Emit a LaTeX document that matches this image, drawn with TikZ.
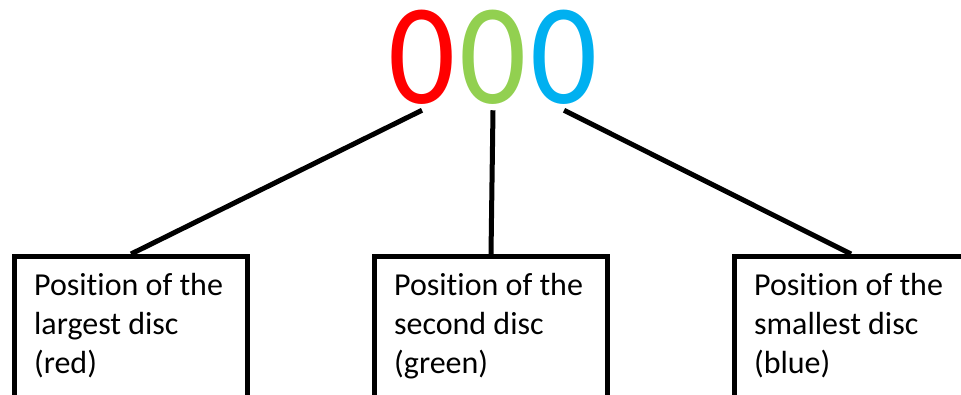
\documentclass[tikz,border=0pt]{standalone}
\usepackage{fontspec}
\setmainfont{Carlito}[Ligatures=NoCommon]
\usetikzlibrary{positioning}
\definecolor{discred}{HTML}{FF0000}
\definecolor{discgreen}{HTML}{92D050}
\definecolor{discblue}{HTML}{00B0F0}
\tikzstyle{digit} = [inner sep=0pt, anchor=base, font=\fontsize{108}{108}\selectfont]
\tikzstyle{posbox} = [rectangle, draw=black, line width=3.75pt, minimum width=175pt, minimum height=130pt, anchor=north]
\tikzstyle{boxtext} = [inner sep=0pt, align=left, font=\fontsize{24}{29.25}\selectfont]
\tikzstyle{edge} = [line width=3.75pt]
\newcommand{\narrowzero}{\scalebox{0.92}[1]{0}}

\begin{document}
\begin{tikzpicture}[x=0.75pt, y=-0.75pt]

\useasboundingbox (0,0) rectangle (961,394);
\clip (0,0) rectangle (961,394);

\node (r0) [digit, text=discred] at (422,103) {\narrowzero};
\node (g0) [digit, text=discgreen] at (493,103) {\narrowzero};
\node (b0) [digit, text=discblue] at (564,103) {\narrowzero};

\node (rbox) [posbox] at (131,254) {};
\node (gbox) [posbox] at (491,254) {};
\node (bbox) [posbox] at (851,254) {};

\node (rtext) [boxtext, below right=14pt and 16.5pt of rbox.north west] {Position of the\\largest disc\\(red)};
\node (gtext) [boxtext, below right=14pt and 16.5pt of gbox.north west] {Position of the\\second disc\\(green)};
\node (btext) [boxtext, below right=14pt and 16.5pt of bbox.north west] {Position of the\\smallest disc\\(blue)};

\draw [edge] ([yshift=-4.5pt]r0.south) -- (rbox.north);
\draw [edge] ([yshift=-4.5pt]g0.south) -- (gbox.north);
\draw [edge] ([yshift=-4.5pt]b0.south) -- (bbox.north);

\end{tikzpicture}
\end{document}
